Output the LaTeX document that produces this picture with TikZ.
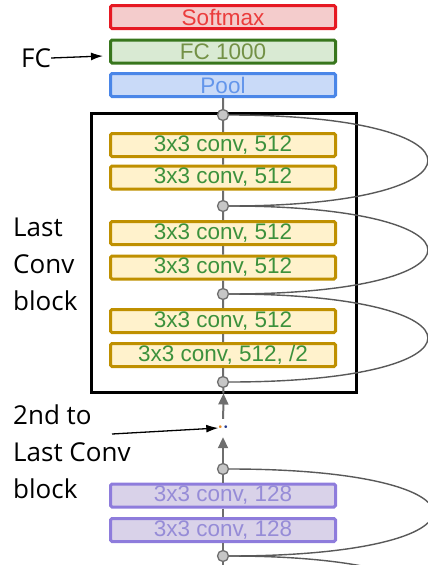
\documentclass[tikz,border=0pt]{standalone}
\usepackage{fontspec}
\setmainfont{Liberation Sans}
\newfontfamily\labfont{Open Sans}
\usepackage{tikz}
\usetikzlibrary{arrows.meta, calc}

\definecolor{smline}{RGB}{230,25,35}
\definecolor{smfill}{RGB}{244,204,204}
\definecolor{smtext}{RGB}{235,60,60}
\definecolor{fcline}{RGB}{56,118,29}
\definecolor{fcfill}{RGB}{217,234,211}
\definecolor{fctext}{RGB}{115,145,70}
\definecolor{plline}{RGB}{74,134,232}
\definecolor{plfill}{RGB}{201,218,248}
\definecolor{pltext}{RGB}{100,150,235}
\definecolor{cvline}{RGB}{191,144,0}
\definecolor{cvfill}{RGB}{255,242,204}
\definecolor{cvtext}{RGB}{60,145,60}
\definecolor{ppline}{RGB}{142,124,220}
\definecolor{ppfill}{RGB}{217,210,233}
\definecolor{pptext}{RGB}{150,140,215}
\definecolor{linkgray}{RGB}{110,110,110}
\definecolor{dotorange}{RGB}{230,140,40}
\definecolor{dotblue}{RGB}{40,60,140}

\begin{document}
\begin{tikzpicture}[x=1pt, y=-1pt,
  layer/.style={draw, line width=3pt, rounded corners=1.5pt, minimum width=225pt,
    minimum height=23pt, inner sep=0pt, font=\fontsize{22.5}{22.5}\selectfont},
  sm/.style={layer, draw=smline, fill=smfill, text=smtext},
  fcl/.style={layer, draw=fcline, fill=fcfill, text=fctext},
  pl/.style={layer, draw=plline, fill=plfill, text=pltext},
  cv/.style={layer, draw=cvline, fill=cvfill, text=cvtext},
  pp/.style={layer, draw=ppline, fill=ppfill, text=pptext},
  joint/.style={circle, draw=linkgray, fill=gray!45, line width=1.3pt, minimum size=11pt, inner sep=0pt},
  link/.style={draw=linkgray, line width=2pt},
  skip/.style={draw=black!65, line width=1.4pt},
  up/.style={link, -{Triangle[width=10pt,length=11pt]}},
  lab/.style={font=\labfont\fontsize{26}{37}\selectfont, align=left, inner sep=0pt},
  pointer/.style={black, line width=1.3pt, -{Latex[length=12pt,width=8pt]}}]
\clip (0,0) rectangle (428,565);

\node[sm] (softmax) at (223,17) {Softmax};
\node[fcl] (fc) at (223,51.5) {FC 1000};
\node[pl] (pool) at (223,85) {Pool};

\node[draw, line width=3pt, minimum width=265pt, minimum height=279pt, inner sep=0pt] (blk) at (223.5,252.5) {};

\node[cv] (conv1) at (223,145) {3x3 conv, 512};
\node[cv] (conv2) at (223,177.5) {3x3 conv, 512};
\node[cv] (conv3) at (223,233) {3x3 conv, 512};
\node[cv] (conv4) at (223,267.5) {3x3 conv, 512};
\node[cv] (conv5) at (223,321) {3x3 conv, 512};
\node[cv] (conv6) at (223,355) {3x3 conv, 512, /2};

\node[pp] (convA) at (223,495.5) {3x3 conv, 128};
\node[pp] (convB) at (223,530) {3x3 conv, 128};

\foreach \n/\y in {1/115, 2/206, 3/294, 4/382, 5/469, 6/556}
  \node[joint] (c\n) at (223,\y) {};
\coordinate (c7) at (223,647);
\coordinate (tail) at (223,575);

\node[inner sep=0pt, minimum height=18pt, font=\fontsize{10}{10}\selectfont] (dots) at (223,428)
  {\textcolor{dotorange}{\textbullet}\hspace{2pt}\textcolor{dotblue}{\textbullet}};

\draw[link] (pool) -- (c1) -- (conv1) -- (conv2) -- (c2) -- (conv3) -- (conv4) -- (c3)
  -- (conv5) -- (conv6) -- (c4) -- (blk.south);
\draw[link] (c5) -- (convA) -- (convB) -- (c6) -- (tail);
\draw[up] (dots) -- (blk.south);
\draw[up] (c5) -- (dots);

\draw[skip] (c1.east) .. controls +(265,0) and +(265,0) .. (c2.east);
\draw[skip] (c2.east) .. controls +(265,0) and +(265,0) .. (c3.east);
\draw[skip] (c3.east) .. controls +(265,0) and +(265,0) .. (c4.east);
\draw[skip] (c5.east) .. controls +(272,0) and +(272,0) .. (c6.east);
\draw[skip] (c6.east) .. controls +(272,0) and +(272,0) .. (c7);

\node[lab, anchor=west] (fclab) at (21,58) {FC};
\node[lab, anchor=west] (lastlab) at (13,264) {Last\\Conv\\block};
\node[lab, anchor=west] (seclab) at (13,452) {2nd to\\Last Conv\\block};
\coordinate (secfrom) at (112,434);

\draw[pointer] (fclab.east) -- (103,56);
\draw[pointer] (secfrom) -- (dots.west);
\end{tikzpicture}
\end{document}
